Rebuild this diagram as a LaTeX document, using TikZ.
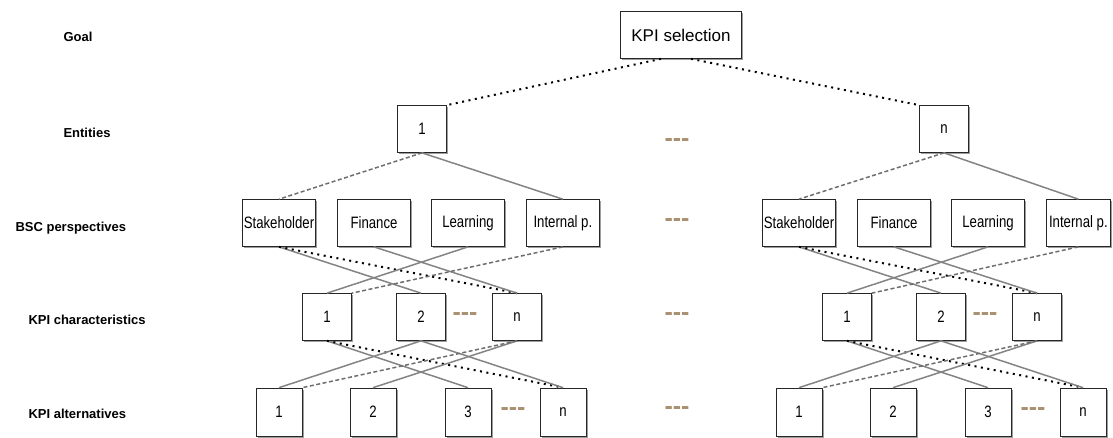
\documentclass[tikz,border=0pt]{standalone}
\usepackage{fontspec}
\setmainfont[FakeStretch=0.8]{Liberation Sans}
\newfontfamily\labelfont{Liberation Sans}
\usetikzlibrary{shadows}
\definecolor{linegray}{RGB}{110,110,110}
\definecolor{gaptan}{RGB}{168,144,112}
\tikzset{
    box/.style={draw=black!85, fill=white, line width=0.7pt, inner sep=1pt,
                minimum width=49pt, minimum height=47pt, align=center,
                drop shadow={shadow xshift=1.8pt, shadow yshift=-1.8pt,
                             fill=gray!75, opacity=1}},
    persp/.style={box, minimum width=73pt},
    alt/.style={box, minimum width=46pt, minimum height=48pt},
    link/.style={draw=linegray!85, line width=1.5pt},
    dashlink/.style={link, draw=linegray, dash pattern=on 4pt off 2.5pt},
    dotlink/.style={draw=black, line width=2pt, dash pattern=on 2pt off 4.5pt},
    gap/.style={text=gaptan, font=\labelfont\bfseries\fontsize{25}{25}\selectfont},
    level/.style={anchor=west, font=\labelfont\bfseries\fontsize{13}{15}\selectfont},
}

\begin{document}
\begin{tikzpicture}[x=1pt, y=-1pt, font=\fontsize{16.5}{18}\selectfont]
    \useasboundingbox (0,0) rectangle (1113,437);

    % level names on the left
    \node[level] (lgoal) at (60,37) {Goal};
    \node[level] (lent) at (60,133) {Entities};
    \node[level] (lbsc) at (12,228) {BSC perspectives};
    \node[level] (lchar) at (25,320) {KPI characteristics};
    \node[level] (lalt) at (25,414) {KPI alternatives};

    \node[box, minimum width=121pt, font=\labelfont\fontsize{17}{20}\selectfont]
        (kpi) at (681,35) {KPI selection};
    \node[box] (e1) at (422,129) {1};
    \node[box] (en) at (944,129) {n};
    \draw[dotlink] ([xshift=-20pt]kpi.south) -- (e1.north east);
    \draw[dotlink] ([xshift=10pt]kpi.south) -- (en.north west);

    % gaps between the two entity blocks
    \node[gap] (g2) at (677,143) {\mbox{-}\mbox{-}\mbox{-}};
    \node[gap] (g3) at (677,223) {\mbox{-}\mbox{-}\mbox{-}};
    \node[gap] (g4) at (677,317) {\mbox{-}\mbox{-}\mbox{-}};
    \node[gap] (g5) at (677,411) {\mbox{-}\mbox{-}\mbox{-}};

    % one block per entity
    \foreach \g/\dx/\iw in {1/0/73, n/520/64} {
        \node[persp] (st-\g) at (279+\dx,223) {Stakeholder};
        \node[persp] (fi-\g) at (374+\dx,223) {Finance};
        \node[persp] (le-\g) at (468+\dx,223) {Learning};
        \node[persp, minimum width=\iw pt, anchor=west]
            (ip-\g) at (526+\dx,223) {Internal p.};

        \node[box] (c1-\g) at (327+\dx,317) {1};
        \node[box] (c2-\g) at (421+\dx,317) {2};
        \node[box] (cn-\g) at (517+\dx,317) {n};
        \node[gap] (cg-\g) at (465+\dx,317) {\mbox{-}\mbox{-}\mbox{-}};

        \node[alt] (a1-\g) at (279+\dx,412) {1};
        \node[alt] (a2-\g) at (373+\dx,412) {2};
        \node[alt] (a3-\g) at (468+\dx,412) {3};
        \node[alt] (an-\g) at (563+\dx,412) {n};
        \node[gap] (ag-\g) at (513+\dx,412) {\mbox{-}\mbox{-}\mbox{-}};

        \draw[dashlink] (e\g.south) -- (st-\g.north);
        \draw[link] (e\g.south) -- (ip-\g.north);

        \draw[link] (st-\g.south) -- (c2-\g.north);
        \draw[dotlink] (st-\g.south) -- (cn-\g.north);
        \draw[link] (fi-\g.south) -- (cn-\g.north);
        \draw[link] (le-\g.south) -- (c1-\g.north);
        \draw[dashlink] (ip-\g.south) -- (c1-\g.north east);

        \draw[link] (c1-\g.south) -- (a3-\g.north);
        \draw[dotlink] (c1-\g.south) -- (an-\g.north);
        \draw[link] (c2-\g.south) -- (a1-\g.north);
        \draw[link] (c2-\g.south) -- (an-\g.north);
        \draw[link] (cn-\g.south) -- (a2-\g.north);
        \draw[dashlink] (cn-\g.south) -- (a1-\g.north east);
    }
\end{tikzpicture}
\end{document}
